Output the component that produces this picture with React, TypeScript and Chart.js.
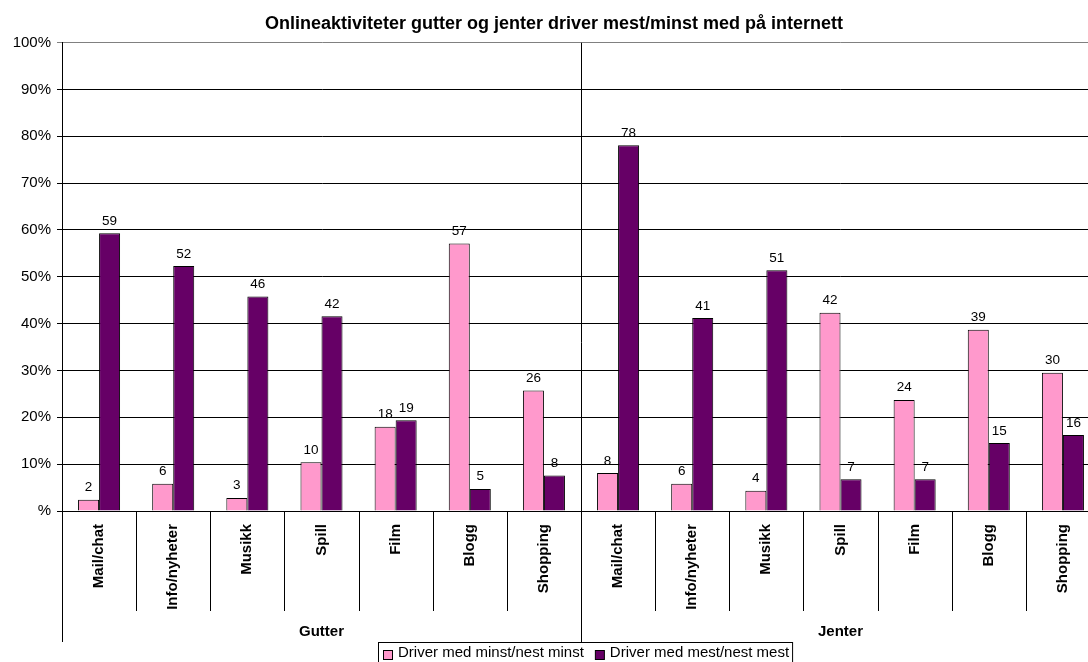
import React, { useEffect, useRef } from "react";
import { Chart, registerables } from "chart.js";

Chart.register(...registerables);

const title = "Onlineaktiviteter gutter og jenter driver mest/minst med på internett";
const categories = [
  "Mail/chat", "Info/nyheter", "Musikk", "Spill", "Film", "Blogg", "Shopping",
  "Mail/chat", "Info/nyheter", "Musikk", "Spill", "Film", "Blogg", "Shopping",
];
const groups = ["Gutter", "Jenter"];
const seriesNames = ["Driver med minst/nest minst", "Driver med mest/nest mest"];
const minstValues = [2.4, 5.8, 2.8, 10.4, 18.0, 57.1, 25.7, 8.1, 5.8, 4.3, 42.3, 23.7, 38.7, 29.5];
const mestValues = [59.3, 52.3, 45.8, 41.6, 19.4, 4.7, 7.6, 78.1, 41.2, 51.4, 6.8, 6.8, 14.5, 16.2];
const yTicks = [0, 10, 20, 30, 40, 50, 60, 70, 80, 90, 100];

const FONT = "'Liberation Sans', Arial, Helvetica, sans-serif";
const PINK = "#FF99CC";
const PURPLE = "#660066";

const extrasPlugin = {
  id: "extras",
  afterDatasetsDraw(chart: any) {
    const ctx = chart.ctx;
    ctx.save();
    ctx.font = `13.5px ${FONT}`;
    ctx.fillStyle = "#000";
    ctx.textAlign = "center";
    ctx.textBaseline = "alphabetic";
    chart.data.datasets.forEach((ds: any, di: number) => {
      const meta = chart.getDatasetMeta(di);
      meta.data.forEach((bar: any, i: number) => {
        ctx.fillText(String(Math.round(ds.data[i])), bar.x, bar.y - 8.5);
      });
    });
    ctx.restore();
  },
  afterDraw(chart: any) {
    const ctx = chart.ctx;
    const area = chart.chartArea;
    const n = categories.length;
    const w = (area.right - area.left) / n;
    const per = n / groups.length;
    ctx.save();
    ctx.strokeStyle = "#000";
    ctx.lineWidth = 1;
    for (let i = 0; i <= n; i++) {
      const px = Math.round(area.left + i * w) + 0.5;
      const isGroup = i % per === 0;
      ctx.beginPath();
      if (isGroup && i !== 0 && i !== n) {
        ctx.moveTo(px, area.top);
      } else {
        ctx.moveTo(px, area.bottom);
      }
      ctx.lineTo(px, isGroup ? area.bottom + 131 : area.bottom + 100);
      ctx.stroke();
    }
    // group labels
    ctx.font = `bold 15px ${FONT}`;
    ctx.fillStyle = "#000";
    ctx.textAlign = "center";
    ctx.textBaseline = "middle";
    groups.forEach((g, gi) => {
      const cx = area.left + (gi * per + per / 2) * w;
      ctx.fillText(g, cx, area.bottom + 121);
    });
    // legend
    const top = area.bottom + 131;
    ctx.font = `15px ${FONT}`;
    const colors = [PINK, PURPLE];
    const widths = seriesNames.map((s) => ctx.measureText(s).width);
    const total = 5 + (9 + 6 + widths[0]) + 11 + (9 + 6 + widths[1]) + 3;
    const bx = Math.round(585.5 - total / 2);
    ctx.strokeStyle = "#000";
    ctx.strokeRect(bx + 0.5, top + 0.5, total, 30);
    let cx = bx + 5;
    ctx.textAlign = "left";
    ctx.textBaseline = "alphabetic";
    seriesNames.forEach((s, si) => {
      ctx.fillStyle = colors[si];
      ctx.fillRect(cx + 0.5, top + 8.5, 9, 9);
      ctx.strokeRect(cx + 0.5, top + 8.5, 9, 9);
      ctx.fillStyle = "#000";
      ctx.fillText(s, cx + 15, top + 15);
      cx += 9 + 6 + widths[si] + 11;
    });
    ctx.restore();
  },
};

export default function App() {
  const ref = useRef<HTMLCanvasElement>(null);
  useEffect(() => {
    if (!ref.current) return;
    const chart = new Chart(ref.current, {
      type: "bar",
      data: {
        labels: categories,
        datasets: [
          {
            label: seriesNames[0],
            data: minstValues,
            backgroundColor: PINK,
            borderColor: "#000",
            borderWidth: 1,
          },
          {
            label: seriesNames[1],
            data: mestValues,
            backgroundColor: PURPLE,
            borderColor: "#000",
            borderWidth: 1,
          },
        ],
      },
      options: {
        responsive: false,
        maintainAspectRatio: false,
        animation: false,
        devicePixelRatio: 1,
        layout: { padding: { left: 8, right: 0, top: 0, bottom: 20 } },
        datasets: {
          bar: { categoryPercentage: 0.567, barPercentage: 1 },
        },
        plugins: {
          legend: { display: false },
          tooltip: { enabled: false },
          title: {
            display: true,
            text: title,
            color: "#000",
            font: { family: FONT, size: 18, weight: "bold" },
            padding: { top: 13, bottom: 8 },
          },
        },
        scales: {
          x: {
            grid: { display: false, drawTicks: false },
            border: { display: true, color: "#000", width: 1 },
            ticks: {
              autoSkip: false,
              minRotation: 90,
              maxRotation: 90,
              padding: 13,
              color: "#000",
              font: { family: FONT, size: 15, weight: "bold" },
            },
            afterFit: (scale: any) => {
              scale.height = 131;
            },
          },
          y: {
            min: 0,
            max: 100,
            afterBuildTicks: (scale: any) => {
              scale.ticks = yTicks.map((v) => ({ value: v }));
            },
            grid: {
              color: (c: any) => (c.tick && c.tick.value === 100 ? "#808080" : "#000"),
              tickLength: 5,
              drawTicks: true,
            },
            border: { display: true, color: "#000", width: 1 },
            ticks: {
              padding: 6,
              color: "#000",
              font: { family: FONT, size: 15 },
              callback: (v: any) => (Number(v) === 0 ? "%" : `${v}%`),
            },
            afterFit: (scale: any) => {
              scale.width = 54;
            },
          },
        },
      },
      plugins: [extrasPlugin],
    });
    return () => chart.destroy();
  }, []);
  return (
    <div
      style={{
        position: "fixed",
        left: 0,
        top: 0,
        width: 1088,
        height: 662,
        overflow: "hidden",
        background: "#fff",
      }}
    >
      <canvas ref={ref} width={1100} height={662} style={{ display: "block", width: 1100, height: 662 }} />
    </div>
  );
}
